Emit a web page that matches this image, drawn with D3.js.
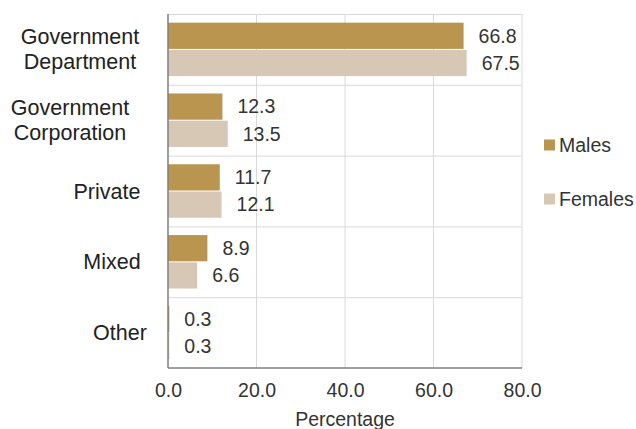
<!DOCTYPE html>
<html>
<head>
<meta charset="utf-8">
<script src="https://cdn.jsdelivr.net/npm/d3@7"></script>
<style>
  html, body { margin: 0; padding: 0; background: #fff; }
  svg { display: block; font-family: "Liberation Sans", Arial, sans-serif; }
</style>
</head>
<body>
<svg id="chart" width="636" height="429"></svg>
<script>
// Employment sector shares by sex
const categories = [["Government", "Department"], ["Government", "Corporation"], ["Private"], ["Mixed"], ["Other"]];
const seriesNames = ["Males", "Females"];
const males = [66.8, 12.3, 11.7, 8.9, 0.3];
const females = [67.5, 13.5, 12.1, 6.6, 0.3];
const xTicks = [0, 20, 40, 60, 80];
const colors = ["#B9954F", "#D7C8B5"];

const svg = d3.select("#chart");
const plotLeft = 168, plotRight = 522, plotTop = 14, plotBottom = 368;

const x = d3.scaleLinear().domain([0, 80]).range([plotLeft, plotRight]);
const y = d3.scaleBand().domain(d3.range(categories.length)).range([plotTop, plotBottom]).paddingInner(0).paddingOuter(0);
const inner = d3.scaleBand().domain(seriesNames).range([0, y.bandwidth()]).paddingInner(0).paddingOuter(0.3);

// grid: vertical lines at ticks, horizontal at category boundaries
const g = svg.append("g");
g.selectAll("line.vg").data(xTicks.slice(1)).join("line")
  .attr("x1", d => x(d)).attr("x2", d => x(d))
  .attr("y1", plotTop).attr("y2", plotBottom)
  .attr("stroke", "#d9d9d9").attr("stroke-width", 1);
g.selectAll("line.hg").data(d3.range(categories.length)).join("line")
  .attr("x1", plotLeft).attr("x2", plotRight)
  .attr("y1", d => y(d) + 0.5).attr("y2", d => y(d) + 0.5)
  .attr("stroke", "#d9d9d9").attr("stroke-width", 1);

// bars and their value labels
const series = [males, females];
series.forEach((vals, si) => {
  svg.append("g").selectAll("rect").data(vals).join("rect")
    .attr("x", x(0))
    .attr("y", (d, i) => y(i) + inner(seriesNames[si]) + 0.5)
    .attr("width", d => x(d) - x(0))
    .attr("height", inner.bandwidth() - 1)
    .attr("fill", colors[si]);
  svg.append("g").selectAll("text").data(vals).join("text")
    .attr("x", d => x(d) + 15)
    .attr("y", (d, i) => y(i) + inner(seriesNames[si]) + inner.bandwidth() / 2)
    .attr("dy", "0.35em")
    .attr("font-size", 19.5).attr("fill", "#333")
    .text(d => d.toFixed(1));
});

// axis lines
svg.append("line").attr("x1", plotLeft).attr("x2", plotLeft).attr("y1", plotTop).attr("y2", plotBottom)
  .attr("stroke", "#7f7f7f").attr("stroke-width", 1.5);
svg.append("line").attr("x1", plotLeft).attr("x2", plotRight).attr("y1", plotBottom).attr("y2", plotBottom)
  .attr("stroke", "#7f7f7f").attr("stroke-width", 1.5);

// x axis tick labels
const xAxis = d3.axisBottom(x).tickValues(xTicks).tickFormat(d3.format(".1f")).tickSize(0).tickPadding(0);
const xa = svg.append("g").attr("transform", `translate(0,${plotBottom})`).call(xAxis);
xa.select(".domain").remove();
xa.selectAll("text").attr("font-size", 19.5).attr("fill", "#333").attr("dy", null).attr("y", 29)
  .attr("font-family", "Liberation Sans, Arial, sans-serif");

svg.append("text").attr("x", x(40)).attr("y", 426).attr("text-anchor", "middle")
  .attr("font-size", 19.5).attr("fill", "#333").text("Percentage");

// category labels
const catX = [80, 70, 107, 112, 120];
categories.forEach((lines, i) => {
  const cy = y(i) + y.bandwidth() / 2;
  const t = svg.append("text").attr("text-anchor", "middle")
    .attr("font-size", 21.5).attr("fill", "#222");
  const n = lines.length;
  lines.forEach((ln, k) => {
    t.append("tspan").attr("x", catX[i])
      .attr("y", cy + (k - (n - 1) / 2) * 25).attr("dy", "0.35em").text(ln);
  });
});

// legend
const lg = svg.append("g");
const legY = [145, 199];
seriesNames.forEach((s, i) => {
  lg.append("rect").attr("x", 544).attr("y", legY[i] - 5.5).attr("width", 11).attr("height", 11).attr("fill", colors[i]);
  lg.append("text").attr("x", 559).attr("y", legY[i]).attr("dy", "0.35em")
    .attr("font-size", 19.5).attr("fill", "#333").text(s);
});
</script>
</body>
</html>
